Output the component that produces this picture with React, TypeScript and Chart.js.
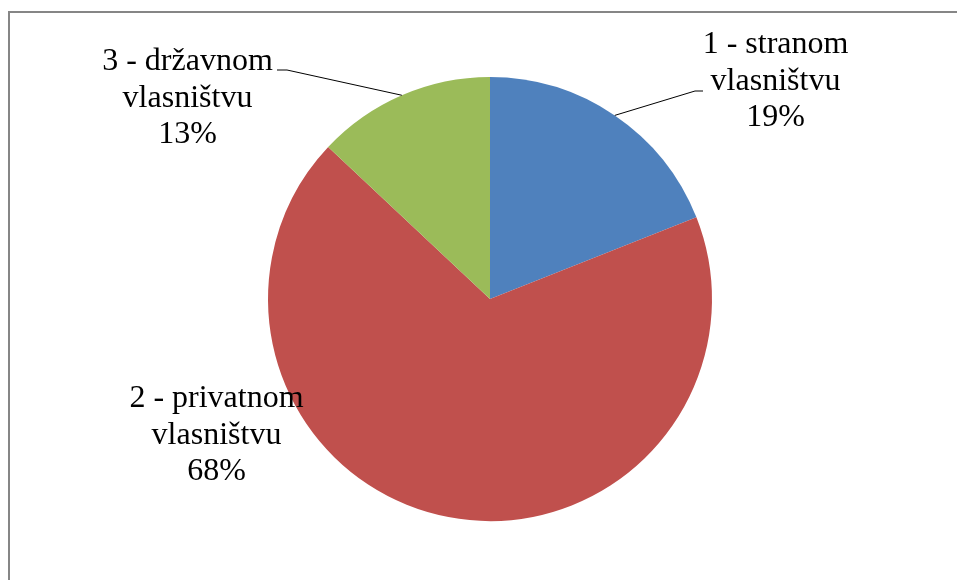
import React, { useEffect, useRef } from "react";
import { Chart, registerables } from "chart.js";

Chart.register(...registerables);

const categories: string[] = ["1 - stranom vlasništvu", "2 - privatnom vlasništvu", "3 - državnom vlasništvu"];
const labelLines: string[][] = [
  ["1 - stranom", "vlasništvu"],
  ["2 - privatnom", "vlasništvu"],
  ["3 - državnom", "vlasništvu"],
];
const shares: number[] = [19, 68, 13];
const colors: string[] = ["#4F81BD", "#C0504D", "#9BBB59"];

// label layout relative to pie center: [centerX offset, first baseline offset]
const labelLayout: number[][] = [
  [285.5, -246],
  [-273.5, 108],
  [-302.5, -229],
];
// leader line bend points relative to pie center (null = no leader)
const leaderLayout: (number[][] | null)[] = [
  [[205, -208], [213, -208]],
  null,
  [[-203, -229], [-213, -229]],
];

const labelPlugin = {
  id: "pieLabels",
  afterDatasetsDraw(chart: any) {
    const ctx = chart.ctx;
    const meta = chart.getDatasetMeta(0);
    ctx.save();
    meta.data.forEach((arc: any, i: number) => {
      const { x, y, startAngle, endAngle, outerRadius } = arc.getProps(
        ["x", "y", "startAngle", "endAngle", "outerRadius"],
        true
      );
      const lead = leaderLayout[i];
      if (lead) {
        const mid = (startAngle + endAngle) / 2;
        const sx = x + Math.cos(mid) * outerRadius;
        const sy = y + Math.sin(mid) * outerRadius;
        ctx.beginPath();
        ctx.strokeStyle = "#000";
        ctx.lineWidth = 1;
        ctx.moveTo(sx, sy);
        lead.forEach((p) => ctx.lineTo(x + p[0], y + p[1]));
        ctx.stroke();
      }
      const [dx, dy] = labelLayout[i];
      ctx.fillStyle = "#000";
      ctx.font = "32px 'Liberation Serif', 'Times New Roman', serif";
      ctx.textAlign = "center";
      ctx.textBaseline = "alphabetic";
      const lines = [...labelLines[i], shares[i] + "%"];
      lines.forEach((t, k) => {
        ctx.fillText(t, x + dx, y + dy + k * 36.5);
      });
    });
    ctx.restore();
  },
};

export default function App() {
  const ref = useRef<HTMLCanvasElement>(null);
  useEffect(() => {
    if (!ref.current) return;
    const chart = new Chart(ref.current, {
      type: "pie",
      data: {
        labels: categories,
        datasets: [
          {
            data: shares,
            backgroundColor: colors,
            borderWidth: 0,
          },
        ],
      },
      options: {
        responsive: false,
        animation: false,
        layout: { padding: { top: 77, bottom: 59, left: 268, right: 245 } },
        plugins: {
          legend: { display: false },
          tooltip: { enabled: false },
        },
      },
      plugins: [labelPlugin],
    });
    return () => chart.destroy();
  }, []);
  return (
    <div style={{ position: "fixed", left: 0, top: 0, width: 957, height: 580, background: "#fff", overflow: "hidden" }}>
      <canvas ref={ref} width={957} height={580} style={{ position: "absolute", left: 0, top: 0 }} />
      <div style={{ position: "absolute", left: 8, top: 11, width: 960, height: 2, background: "#868686" }} />
      <div style={{ position: "absolute", left: 8, top: 11, width: 2, height: 580, background: "#868686" }} />
    </div>
  );
}
